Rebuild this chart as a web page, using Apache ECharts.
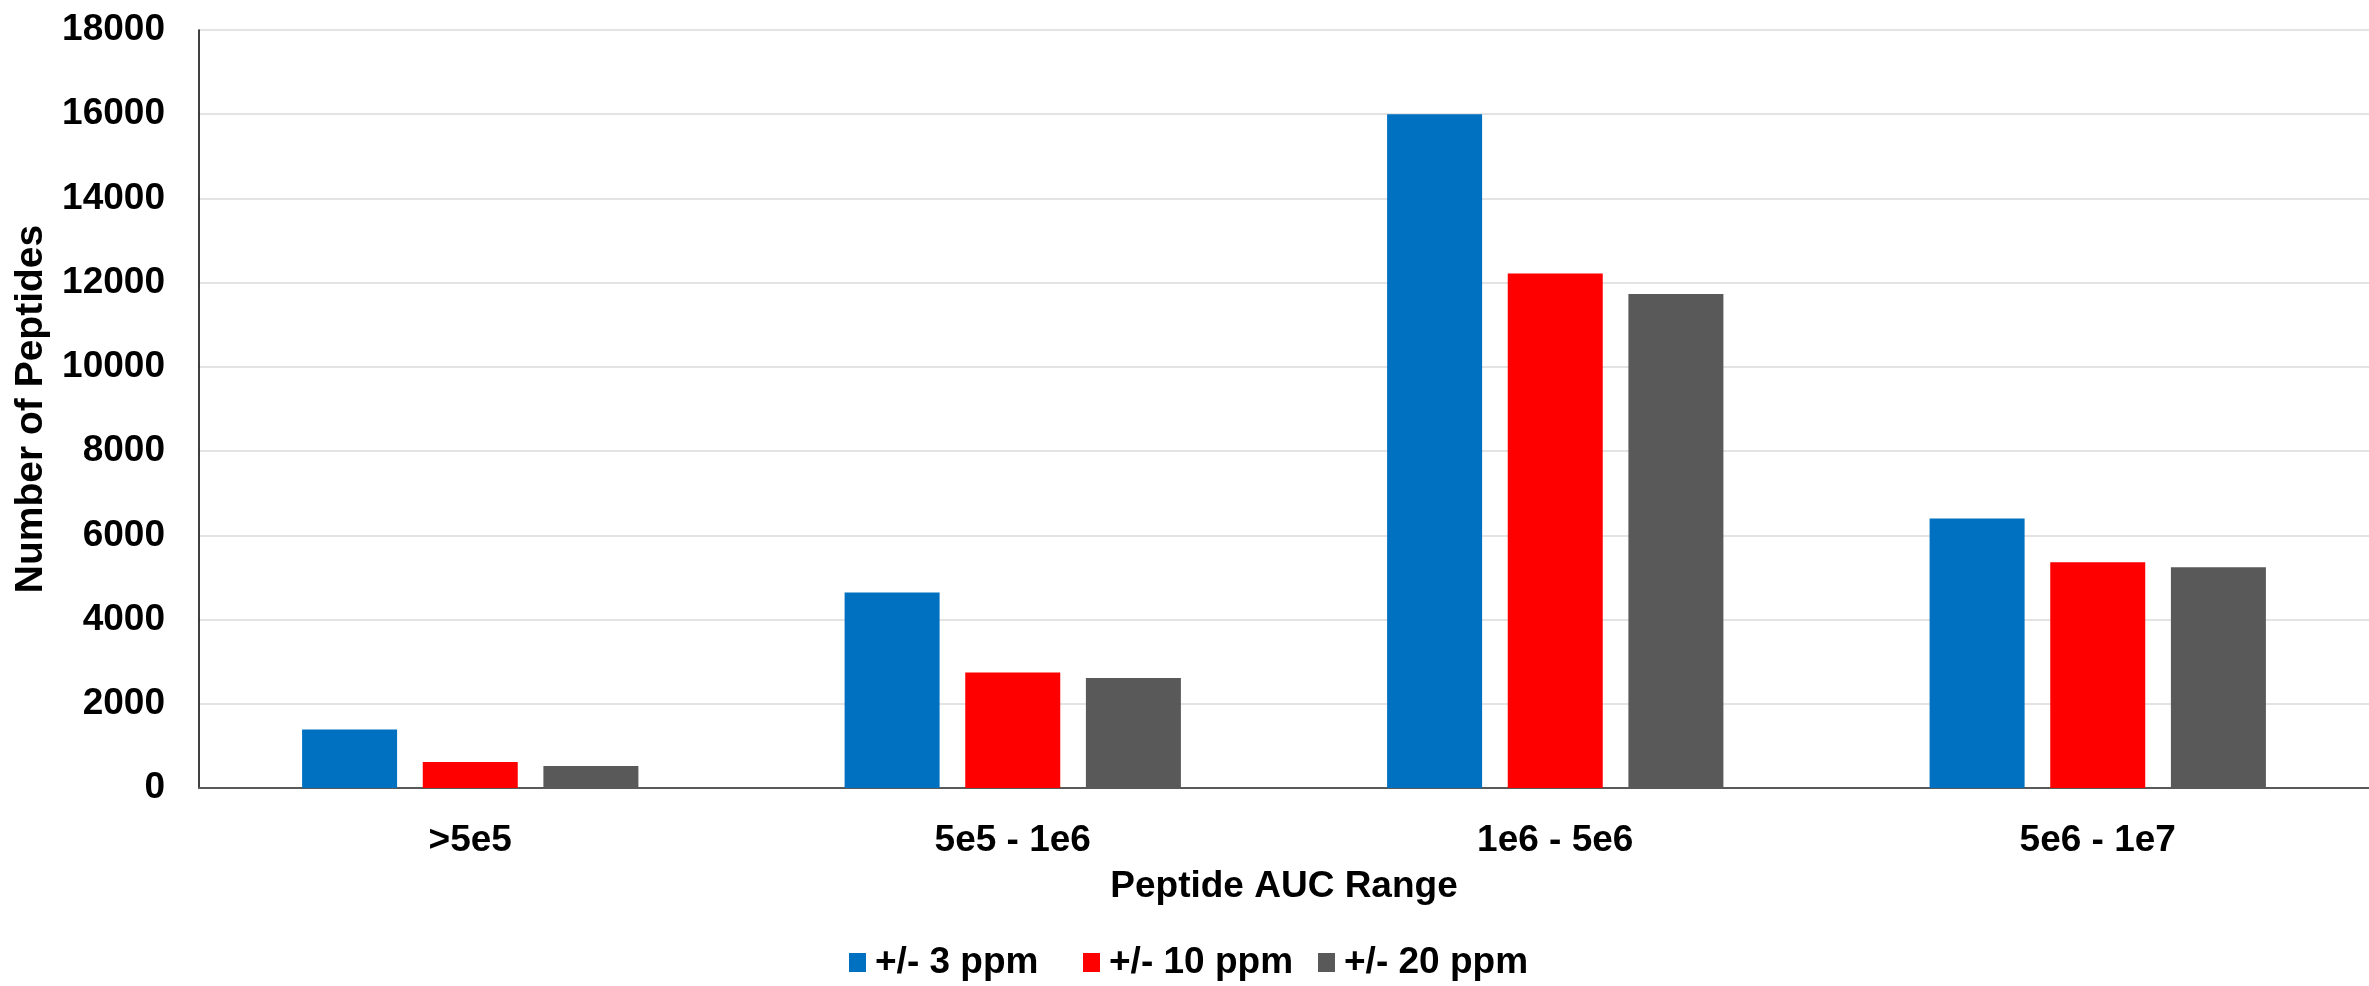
<!DOCTYPE html>
<html lang="en">
<head>
    <meta charset="UTF-8">
    <title>Peptides by AUC range</title>
    <style>
        *{
            margin: 0;
            padding: 0;
        }
        html, body{
            height: 100%;
            width: 100%;
            background: #fff;
        }
        #chart{
            width: 2369px;
            height: 986px;
        }
    </style>
</head>
<body>
<div id="chart"></div>
<script src="https://cdn.jsdelivr.net/npm/echarts@6/dist/echarts.min.js"></script>
<script>
    var categories = ['>5e5', '5e5 - 1e6', '1e6 - 5e6', '5e6 - 1e7'];
    var seriesNames = ['+/- 3 ppm', '+/- 10 ppm', '+/- 20 ppm'];
    var ppm3 = [1390, 4640, 16000, 6400];
    var ppm10 = [620, 2740, 12220, 5360];
    var ppm20 = [525, 2610, 11730, 5240];
    var colors = ['#0070C0', '#FF0000', '#595959'];

    var font = 'Liberation Sans, Arial, sans-serif';
    var chart = echarts.init(document.getElementById('chart'));

    function bar(name, data, color) {
        return {
            name: name,
            type: 'bar',
            data: data,
            barWidth: 95,
            barGap: '27%',
            itemStyle: {color: color}
        };
    }

    // one legend per series, the original spaces the entries evenly
    var legendLeft = [844, 1078, 1313];
    var legends = [];
    for (var i = 0; i < seriesNames.length; i++) {
        legends.push({
            data: [seriesNames[i]],
            bottom: 0,
            left: legendLeft[i],
            itemWidth: 17,
            itemHeight: 19,
            icon: 'rect',
            textStyle: {fontFamily: font, fontWeight: 'bold', fontSize: 37, color: '#000', padding: [0, 0, 0, 4]}
        });
    }

    var option = {
        animation: false,
        color: colors,
        grid: {left: 199, right: 0, top: 30, bottom: 198},
        legend: legends,
        xAxis: {
            type: 'category',
            data: categories,
            name: 'Peptide AUC Range',
            nameLocation: 'middle',
            nameGap: 80,
            nameTextStyle: {fontFamily: font, fontWeight: 'bold', fontSize: 37, color: '#000'},
            axisLine: {lineStyle: {color: '#595959', width: 2}},
            axisTick: {show: false},
            axisLabel: {fontFamily: font, fontWeight: 'bold', fontSize: 37, color: '#000', margin: 34}
        },
        yAxis: {
            type: 'value',
            min: 0,
            max: 18000,
            interval: 2000,
            name: 'Number of Peptides',
            nameLocation: 'middle',
            nameGap: 138,
            nameTextStyle: {fontFamily: font, fontWeight: 'bold', fontSize: 39, color: '#000'},
            axisLine: {show: true, lineStyle: {color: '#000', width: 1.5}},
            axisTick: {show: false},
            axisLabel: {
                fontFamily: font, fontWeight: 'bold', fontSize: 37, color: '#000', margin: 34,
                formatter: function (v) { return String(v); }
            },
            splitLine: {lineStyle: {color: '#e3e3e3', width: 2}}
        },
        series: [
            bar(seriesNames[0], ppm3, colors[0]),
            bar(seriesNames[1], ppm10, colors[1]),
            bar(seriesNames[2], ppm20, colors[2])
        ]
    };
    chart.setOption(option);
</script>
</body>
</html>
